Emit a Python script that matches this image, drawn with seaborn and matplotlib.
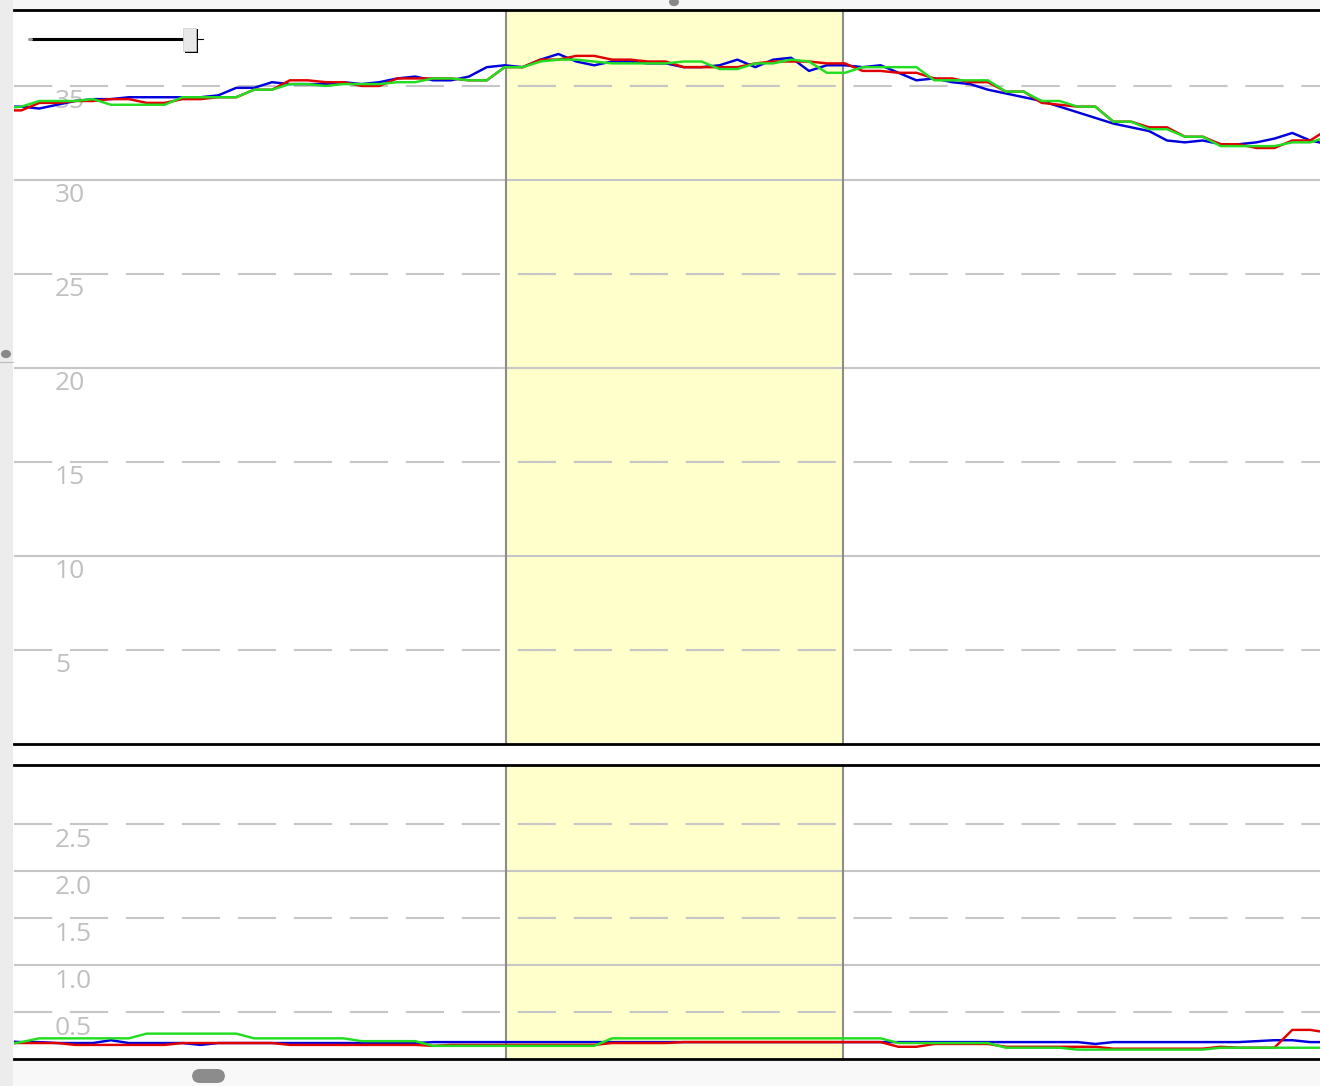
import numpy as np
import pandas as pd
import matplotlib
matplotlib.use("Agg")
import matplotlib.pyplot as plt
import seaborn as sns
from matplotlib.patches import FancyBboxPatch, Rectangle, Circle
from matplotlib.lines import Line2D

# ---------------- data ----------------
sample = list(range(75))

temp_red = [33.7, 33.7, 34.1, 34.1, 34.2, 34.2, 34.3, 34.3, 34.1, 34.1,
            34.3, 34.3, 34.4, 34.4, 34.8, 34.8, 35.3, 35.3, 35.2, 35.2,
            35.0, 35.0, 35.4, 35.4, 35.4, 35.4, 35.3, 35.3, 36.0, 36.0,
            36.4, 36.4, 36.6, 36.6, 36.4, 36.4, 36.3, 36.3, 36.0, 36.0,
            36.0, 36.0, 36.2, 36.3, 36.3, 36.3, 36.2, 36.2, 35.8, 35.8,
            35.7, 35.7, 35.4, 35.4, 35.2, 35.2, 34.7, 34.7, 34.1, 34.0,
            33.9, 33.9, 33.1, 33.1, 32.8, 32.8, 32.3, 32.3, 31.9, 31.9,
            31.7, 31.7, 32.1, 32.1, 32.7]
temp_green = [33.8, 33.9, 34.2, 34.2, 34.2, 34.3, 34.0, 34.0, 34.0, 34.0,
              34.4, 34.4, 34.4, 34.4, 34.8, 34.8, 35.1, 35.1, 35.0, 35.1,
              35.1, 35.1, 35.2, 35.2, 35.4, 35.4, 35.3, 35.3, 36.0, 36.0,
              36.3, 36.4, 36.4, 36.3, 36.2, 36.2, 36.2, 36.2, 36.3, 36.3,
              35.9, 35.9, 36.2, 36.2, 36.4, 36.3, 35.7, 35.7, 36.0, 36.0,
              36.0, 36.0, 35.3, 35.3, 35.3, 35.3, 34.7, 34.7, 34.2, 34.2,
              33.9, 33.9, 33.1, 33.1, 32.7, 32.7, 32.3, 32.3, 31.8, 31.8,
              31.8, 31.8, 32.0, 32.0, 32.3]
temp_blue = [33.9, 33.9, 33.8, 34.0, 34.2, 34.3, 34.3, 34.4, 34.4, 34.4,
             34.4, 34.4, 34.5, 34.9, 34.9, 35.2, 35.1, 35.1, 35.1, 35.2,
             35.1, 35.2, 35.4, 35.5, 35.3, 35.3, 35.5, 36.0, 36.1, 36.0,
             36.4, 36.7, 36.3, 36.1, 36.3, 36.3, 36.2, 36.2, 36.0, 36.0,
             36.1, 36.4, 36.0, 36.4, 36.5, 35.8, 36.1, 36.1, 36.0, 36.1,
             35.7, 35.3, 35.4, 35.2, 35.1, 34.8, 34.6, 34.4, 34.2, 33.9,
             33.6, 33.3, 33.0, 32.8, 32.6, 32.1, 32.0, 32.1, 31.9, 31.9,
             32.0, 32.2, 32.5, 32.1, 31.9]

low_red = [0.17, 0.17, 0.17, 0.17, 0.15, 0.15, 0.15, 0.15, 0.15, 0.15,
           0.17, 0.17, 0.17, 0.17, 0.17, 0.17, 0.15, 0.15, 0.15, 0.15,
           0.15, 0.15, 0.15, 0.15, 0.14, 0.15, 0.15, 0.15, 0.15, 0.15,
           0.15, 0.15, 0.15, 0.15, 0.17, 0.17, 0.17, 0.17, 0.18, 0.18,
           0.18, 0.18, 0.18, 0.18, 0.18, 0.18, 0.18, 0.18, 0.18, 0.18,
           0.13, 0.13, 0.16, 0.16, 0.16, 0.16, 0.13, 0.13, 0.13, 0.13,
           0.13, 0.13, 0.11, 0.11, 0.11, 0.11, 0.11, 0.11, 0.13, 0.12,
           0.12, 0.12, 0.31, 0.31, 0.28]
low_green = [0.15, 0.18, 0.22, 0.22, 0.22, 0.22, 0.22, 0.22, 0.27, 0.27,
             0.27, 0.27, 0.27, 0.27, 0.22, 0.22, 0.22, 0.22, 0.22, 0.22,
             0.19, 0.19, 0.19, 0.19, 0.14, 0.14, 0.14, 0.14, 0.14, 0.14,
             0.14, 0.14, 0.14, 0.14, 0.22, 0.22, 0.22, 0.22, 0.22, 0.22,
             0.22, 0.22, 0.22, 0.22, 0.22, 0.22, 0.22, 0.22, 0.22, 0.22,
             0.17, 0.17, 0.17, 0.17, 0.17, 0.17, 0.12, 0.12, 0.12, 0.12,
             0.10, 0.10, 0.10, 0.10, 0.10, 0.10, 0.10, 0.10, 0.12, 0.12,
             0.12, 0.12, 0.12, 0.12, 0.12]
low_blue = [0.19, 0.18, 0.18, 0.17, 0.17, 0.17, 0.20, 0.17, 0.17, 0.17,
            0.17, 0.15, 0.17, 0.17, 0.17, 0.17, 0.17, 0.17, 0.17, 0.17,
            0.17, 0.17, 0.17, 0.17, 0.18, 0.18, 0.18, 0.18, 0.18, 0.18,
            0.18, 0.18, 0.18, 0.18, 0.18, 0.18, 0.18, 0.18, 0.18, 0.18,
            0.18, 0.18, 0.18, 0.18, 0.18, 0.18, 0.18, 0.18, 0.18, 0.18,
            0.18, 0.18, 0.18, 0.18, 0.18, 0.18, 0.18, 0.18, 0.18, 0.18,
            0.18, 0.16, 0.18, 0.18, 0.18, 0.18, 0.18, 0.18, 0.18, 0.18,
            0.19, 0.20, 0.20, 0.18, 0.18]

band = (28.05, 46.9)
top_solid = [10, 20, 30]
top_dashed = [5, 15, 25, 35]
top_labels = ["5", "10", "15", "20", "25", "30", "35"]
bot_solid = [1.0, 2.0]
bot_dashed = [0.5, 1.5, 2.5]
bot_labels = ["0.5", "1.0", "1.5", "2.0", "2.5"]

series_order = ["blue", "red", "green"]
palette = {"red": "#e00000", "green": "#22dd22", "blue": "#0000dd"}

top_df = pd.DataFrame({
    "sample": sample * 3,
    "value": temp_blue + temp_red + temp_green,
    "series": ["blue"] * 75 + ["red"] * 75 + ["green"] * 75,
})
bot_df = pd.DataFrame({
    "sample": sample * 3,
    "value": low_blue + low_red + low_green,
    "series": ["blue"] * 75 + ["red"] * 75 + ["green"] * 75,
})

# ---------------- figure ----------------
sns.set_style("white")
plt.rcParams["font.family"] = ["Open Sans", "DejaVu Sans"]
plt.rcParams["lines.scale_dashes"] = False

W, H = 1320, 1086
fig = plt.figure(figsize=(W / 100, H / 100), dpi=100)
fig.patch.set_facecolor("white")


def fx(x):
    return x / W


def fy(y):
    return 1 - y / H


# background chrome
fig.add_artist(Rectangle((0, fy(10)), 1, 10 / H, transform=fig.transFigure,
                         facecolor="#f6f6f6", edgecolor="none", zorder=0))
fig.add_artist(Rectangle((0, 0), 1, fy(1059), transform=fig.transFigure,
                         facecolor="#f8f8f8", edgecolor="none", zorder=0))
fig.add_artist(Rectangle((0, 0), fx(13), 1, transform=fig.transFigure,
                         facecolor="#ececec", edgecolor="none", zorder=0))

xl = ((14 - 3.5) / 17.9, (1320 - 3.5) / 17.9)

ax1 = fig.add_axes([fx(14), fy(744), 1 - fx(14), (744 - 10) / H])
ax2 = fig.add_axes([fx(14), fy(1059), 1 - fx(14), (1059 - 765) / H])

grid_col = "#c6c6c6"
dash = (0, (27.5, 12.8))


def style_axis(ax, ylim, solid, dashed, labels, ticks_all, df):
    ax.set_xlim(*xl)
    ax.set_ylim(*ylim)
    ax.axvspan(band[0], band[1], color="#ffffcc", zorder=0.5, lw=0)
    for v in solid:
        ax.axhline(v, color=grid_col, lw=1.5, zorder=1)
    for v in dashed:
        ax.axhline(v, color=grid_col, lw=1.5, ls=dash, zorder=1)
    for b in band:
        ax.axvline(b, color="#8c8c8c", lw=1.5, zorder=1.2)
    for v, lab in zip(ticks_all, labels):
        ax.annotate(lab, xy=(fx(55 - 14) / (1 - fx(14)), v),
                    xycoords=ax.get_yaxis_transform(),
                    xytext=(0, -2.5), textcoords="offset points",
                    va="top", ha="left", fontsize=19, color="#c0c0c0",
                    zorder=1.5)
    sns.lineplot(data=df, x="sample", y="value", hue="series",
                 hue_order=series_order, palette=palette, ax=ax,
                 linewidth=1.75, legend=False, zorder=3, estimator=None)
    ax.set_xticks([])
    ax.set_yticks([])
    ax.set_xlabel("")
    ax.set_ylabel("")
    for s in ["left", "right"]:
        ax.spines[s].set_visible(False)
    for s in ["top", "bottom"]:
        ax.spines[s].set_color("black")
        ax.spines[s].set_linewidth(2.0)
        ax.spines[s].set_zorder(5)
    ax.set_facecolor("white")


style_axis(ax1, (0, 39.04), top_solid, top_dashed, top_labels,
           [5, 10, 15, 20, 25, 30, 35], top_df)
style_axis(ax2, (0, 3.13), bot_solid, bot_dashed, bot_labels,
           [0.5, 1.0, 1.5, 2.0, 2.5], bot_df)

# ---------------- UI widgets ----------------
# slider
fig.add_artist(Line2D([fx(30), fx(186)], [fy(39), fy(39)], transform=fig.transFigure,
                      color="black", lw=2.2, zorder=10))
fig.add_artist(Line2D([fx(29), fx(31)], [fy(39), fy(39)], transform=fig.transFigure,
                      color="#999999", lw=2.2, zorder=10))
fig.add_artist(Rectangle((fx(185), fy(53)), 13 / W, 24 / H, transform=fig.transFigure,
                         facecolor="black", edgecolor="none", zorder=10))
fig.add_artist(Rectangle((fx(183), fy(51)), 13 / W, 23 / H, transform=fig.transFigure,
                         facecolor="#e8e8e8", edgecolor="#cccccc", lw=0.5, zorder=11))
fig.add_artist(Line2D([fx(198), fx(203)], [fy(39), fy(39)], transform=fig.transFigure,
                      color="black", lw=0.8, zorder=10))
# handles / dots
fig.add_artist(Circle((fx(674), fy(2)), 5 / W, transform=fig.transFigure,
                      facecolor="#888888", edgecolor="none", zorder=12))
fig.add_artist(Circle((fx(6), fy(354)), 5 / W, transform=fig.transFigure,
                      facecolor="#888888", edgecolor="none", zorder=12))
fig.add_artist(Line2D([fx(0), fx(13)], [fy(362), fy(362)], transform=fig.transFigure,
                      color="#bbbbbb", lw=0.8, zorder=12))
fig.add_artist(FancyBboxPatch((fx(192), fy(1083)), 33 / W, 14 / H,
                              boxstyle="round,pad=0,rounding_size=0.006",
                              transform=fig.transFigure, mutation_aspect=W / H,
                              facecolor="#8c8c8c", edgecolor="none", zorder=12))

fig.savefig("out.png", dpi=100, facecolor=fig.get_facecolor())
